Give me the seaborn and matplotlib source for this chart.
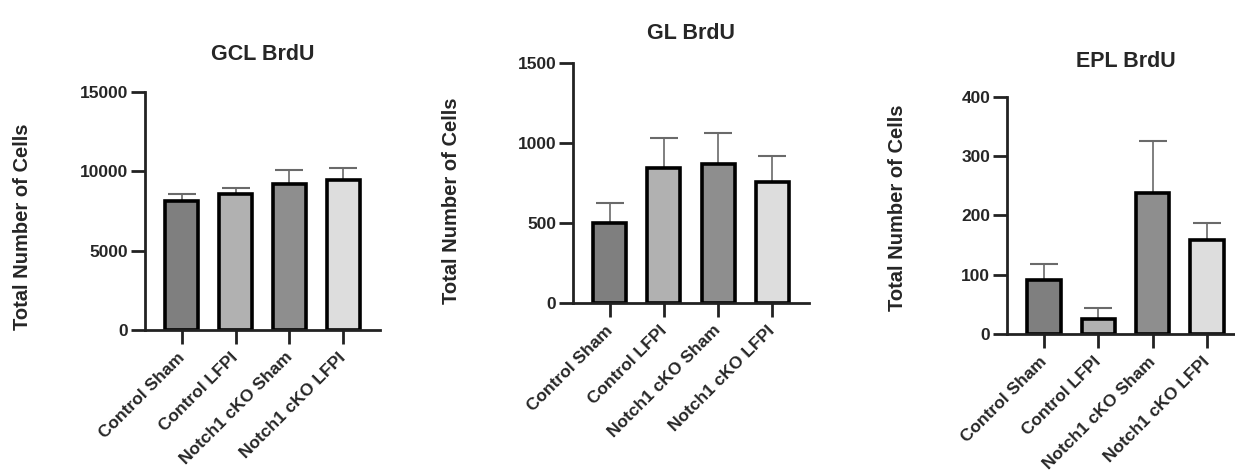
import seaborn as sns
import numpy as np
import pandas as pd
import matplotlib.pyplot as plt
import matplotlib.transforms as mtransforms

groups = ["Control Sham", "Control LFPI", "Notch1 cKO Sham", "Notch1 cKO LFPI"]
bar_colors = ["#7f7f7f", "#b1b1b1", "#8e8e8e", "#dddddd"]

titles = ["GCL BrdU", "GL BrdU", "EPL BrdU"]
gcl_mean = [8150, 8550, 9180, 9430]
gcl_sem = [420, 380, 890, 780]
gl_mean = [500, 843, 867, 758]
gl_sem = [125, 190, 198, 163]
epl_mean = [91, 25, 238, 159]
epl_sem = [28, 19, 88, 29]

means = [gcl_mean, gl_mean, epl_mean]
sems = [gcl_sem, gl_sem, epl_sem]
ymax = [15000, 1500, 400]
yticks = [[0, 5000, 10000, 15000], [0, 500, 1000, 1500], [0, 100, 200, 300, 400]]

sns.set_style("white")
plt.rcParams["font.family"] = ["Liberation Sans", "DejaVu Sans"]
plt.rcParams["font.weight"] = "bold"

fig = plt.figure(figsize=(12.35, 4.72), dpi=100)
# axes boxes in figure fraction (left, bottom, width, height)
boxes = [(0.1174, 0.3008, 0.1903, 0.5042),
         (0.4640, 0.3581, 0.1911, 0.5085),
         (0.8154, 0.2917, 0.1919, 0.5036)]
label_pos = [(-0.48, 0.433), (-0.475, 0.425), (-0.422, 0.531)]
title_pad = [23, 17, 21]
shift = mtransforms.ScaledTranslation(-5 / 100, -3 / 100, fig.dpi_scale_trans)

for i in range(3):
    ax = fig.add_axes(boxes[i])
    df = pd.DataFrame({"group": groups, "value": means[i]})
    ax.errorbar(np.arange(4), means[i], yerr=[np.zeros(4), sems[i]], fmt="none",
                ecolor="#6a6a6a", elinewidth=1.2, capsize=10, capthick=1.5, zorder=1)
    sns.barplot(data=df, x="group", y="value", hue="group", palette=bar_colors,
                legend=False, width=0.61, edgecolor="black", linewidth=2.6,
                ax=ax, zorder=2)
    ax.set_xlim(-0.68, 3.68)
    ax.set_ylim(0, ymax[i])
    ax.set_yticks(yticks[i])
    ax.set_xlabel("")
    ax.set_ylabel("Total Number of Cells", fontsize=14.5, fontweight="bold")
    ax.yaxis.set_label_coords(*label_pos[i])
    ax.set_title(titles[i], fontsize=15.5, fontweight="bold", pad=title_pad[i])
    for s in ["top", "right"]:
        ax.spines[s].set_visible(False)
    for s in ["left", "bottom"]:
        ax.spines[s].set_linewidth(2)
        ax.spines[s].set_color("#222222")
    ax.tick_params(axis="both", length=10, width=2, color="#222222",
                   labelsize=12.5, pad=2, direction="out", left=True, bottom=True)
    ax.set_xticks(range(4))
    ax.set_xticklabels(groups, rotation=45, ha="right", rotation_mode="anchor",
                       fontsize=12.5, fontweight="bold")
    for lab in ax.get_xticklabels():
        lab.set_transform(lab.get_transform() + shift)
    for lab in ax.get_yticklabels():
        lab.set_fontweight("bold")

fig.savefig("out.png", dpi=100)
